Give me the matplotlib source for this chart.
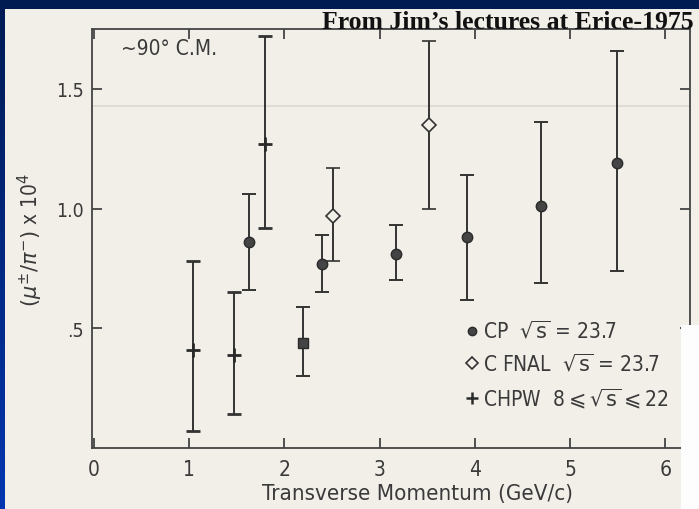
## recreate the mu/pi ratio plot (scanned slide look)
import numpy as np
import matplotlib.pyplot as plt
from matplotlib.patches import Rectangle
from matplotlib.colors import LinearSegmentedColormap
from matplotlib import font_manager

# CP points (filled circles)
cp_x = [1.63, 2.40, 3.17, 3.92, 4.70, 5.49]
cp_y = [0.86, 0.77, 0.81, 0.88, 1.01, 1.19]
cp_lo = [0.66, 0.65, 0.70, 0.62, 0.69, 0.74]
cp_hi = [1.06, 0.89, 0.93, 1.14, 1.36, 1.66]

# C FNAL points (open diamonds)
fnal_x = [2.51, 3.52]
fnal_y = [0.97, 1.35]
fnal_lo = [0.78, 1.00]
fnal_hi = [1.17, 1.70]

# CHPW points (plus)
chpw_x = [1.04, 1.47, 1.80]
chpw_y = [0.41, 0.39, 1.27]
chpw_lo = [0.07, 0.14, 0.92]
chpw_hi = [0.78, 0.65, 1.72]

# lone square point
sq_x = [2.20]
sq_y = [0.44]
sq_lo = [0.30]
sq_hi = [0.59]

xticks = [0, 1, 2, 3, 4, 5, 6]
xlabels = ['0', '1', '2', '3', '4', '5', '6']
yticks = [0.5, 1.0, 1.5]
ylabels = ['.5', '1.0', '1.5']

W, H = 699, 510
ink = '#333333'
txt = '#3a3a3a'

# condensed lettering if the system has it
have_cond = any(f.name == 'DejaVu Sans' and 'condensed' in str(f.stretch)
                for f in font_manager.fontManager.ttflist)
sc = 1.0 if have_cond else 0.85
lf = dict(family='DejaVu Sans', stretch='condensed', color=txt)

plt.rcParams['mathtext.fontset'] = 'dejavusans'

fig = plt.figure(figsize=(W / 100, H / 100), dpi=100)

# background: blue gradient border + cream page
bg = fig.add_axes([0, 0, 1, 1], zorder=-1)
grad = np.linspace(0, 1, 256).reshape(-1, 1)
cmap = LinearSegmentedColormap.from_list('b', ['#001a52', '#0036b0'])
bg.imshow(grad, aspect='auto', cmap=cmap, extent=[0, W, H, 0])
bg.add_patch(Rectangle((5, 10), W - 5, H - 10, color='#f2efe9', lw=0))
bg.set_xlim(0, W)
bg.set_ylim(H, 0)
bg.axis('off')

# main plot
ax = fig.add_axes([92 / W, (H - 449) / H, (690 - 92) / W, (449 - 30) / H])
ax.set_facecolor('none')

# faint show-through line from the back of the page
ax.axhline(1.43, color='#dcd9d2', lw=1.2, zorder=0)


def errs(y, lo, hi):
    return [np.array(y) - np.array(lo), np.array(hi) - np.array(y)]


ek = dict(ls='none', ecolor=ink, elinewidth=1.4, capsize=5, capthick=1.4)
ax.errorbar(cp_x, cp_y, yerr=errs(cp_y, cp_lo, cp_hi), marker='o', ms=7.5,
            mfc='#444444', mec='#2a2a2a', **ek)
ax.errorbar(fnal_x, fnal_y, yerr=errs(fnal_y, fnal_lo, fnal_hi), marker='D', ms=7,
            mfc='#f2efe9', mec=ink, mew=1.2, **ek)
ax.errorbar(chpw_x, chpw_y, yerr=errs(chpw_y, chpw_lo, chpw_hi), marker='+', ms=10,
            mec='#2a2a2a', mew=2, **ek)
ax.errorbar(sq_x, sq_y, yerr=errs(sq_y, sq_lo, sq_hi), marker='s', ms=7,
            mfc='#444444', mec='#2a2a2a', **ek)

ax.set_xlim(-0.02, 6.26)
ax.set_ylim(0, 1.75)
for s in ax.spines.values():
    s.set_color('#444444')
    s.set_linewidth(1.3)

ax.set_xticks(xticks)
ax.set_xticklabels(xlabels, fontsize=15 * sc, **lf)
ax.set_yticks(yticks)
ax.set_yticklabels(ylabels, fontsize=14 * sc, **lf)
ax.tick_params(direction='in', length=7, width=1.3, color='#444444',
               top=True, right=True)
ax.tick_params(axis='x', pad=8)
ax.tick_params(axis='y', pad=6)

fig.text(418 / W, 1 - 494 / H, 'Transverse Momentum (GeV/c)', fontsize=16 * sc,
         ha='center', va='center', **lf)
ax.set_ylabel(r'$(\mu^{\pm}/\pi^{-})$ x 10$^4$', fontsize=15 * sc, labelpad=8, **lf)

ax.text(0.28, 1.67, '~90° C.M.', fontsize=15 * sc, va='center', **lf)

# hand-drawn legend
leg_y = [0.49, 0.354, 0.208]
leg_txt = [r'CP  $\sqrt{\mathrm{s}}$ = 23.7', r'C FNAL  $\sqrt{\mathrm{s}}$ = 23.7',
           r'CHPW  8$\leqslant\sqrt{\mathrm{s}}\leqslant$22']
leg_mk = [dict(marker='o', ms=6, mfc='#444444', mec='#2a2a2a'),
          dict(marker='D', ms=6, mfc='#f2efe9', mec=ink, mew=1.2),
          dict(marker='+', ms=9, mec='#2a2a2a', mew=1.8)]
for yy, t, mk in zip(leg_y, leg_txt, leg_mk):
    ax.plot([3.97], [yy], ls='none', **mk)
    ax.text(4.09, yy, t, fontsize=15 * sc, va='center', **lf)

# white patch covering lower right corner
fig.patches.append(Rectangle((681 / W, 0), (W - 681) / W, (H - 326) / H,
                             transform=fig.transFigure, color='#fdfdfd',
                             lw=0, zorder=5))

fig.text(694 / W, 1 - 29 / H, 'From Jim\u2019s lectures at Erice-1975',
         family='Liberation Serif', weight='bold', fontsize=18.5, color='#111111',
         ha='right', va='baseline', zorder=6)

fig.savefig('out.png', dpi=100)
